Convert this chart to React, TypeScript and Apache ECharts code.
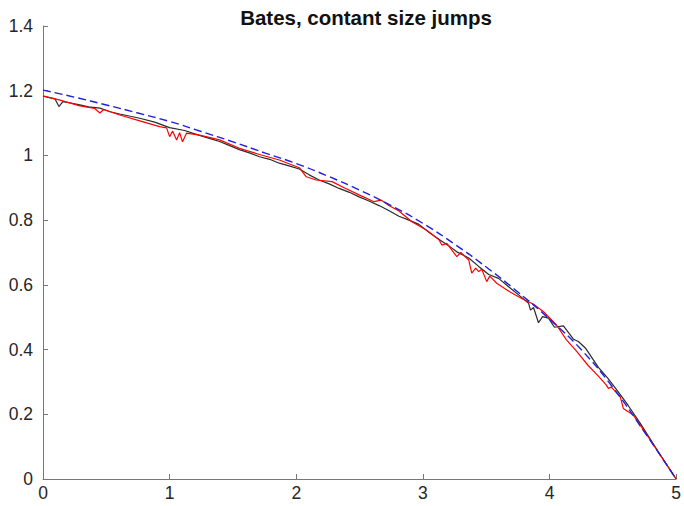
import React, { useEffect, useRef } from "react";
import * as echarts from "echarts";

const titleText = "Bates, contant size jumps";
const xTicks = [0, 1, 2, 3, 4, 5];
const yTicks = [0, 0.2, 0.4, 0.6, 0.8, 1, 1.2, 1.4];

// Blue dashed (smooth) curve
const blueX = [0, 0.25, 0.5, 0.75, 1.0, 1.25, 1.5, 1.75, 2.0, 2.25, 2.5, 2.75, 3.0, 3.25, 3.5, 3.75, 4.0, 4.25, 4.5, 4.75, 5.0];
const blueY = [1.202, 1.180, 1.156, 1.131, 1.105, 1.074, 1.042, 1.008, 0.975, 0.936, 0.893, 0.845, 0.790, 0.726, 0.655, 0.578, 0.494, 0.400, 0.283, 0.145, 0.0];

// Black noisy path
const blackX = [0.000, 0.094, 0.126, 0.157, 0.220, 0.291, 0.360, 0.449, 0.530, 0.606, 0.690, 0.764, 0.882, 1.0, 1.118, 1.236, 1.320, 1.394, 1.470, 1.551, 1.630, 1.709, 1.790, 1.866, 1.950, 2.024, 2.102, 2.181, 2.260, 2.339, 2.420, 2.496, 2.570, 2.654, 2.730, 2.811, 2.890, 2.969, 3.050, 3.126, 3.200, 3.268, 3.362, 3.441, 3.520, 3.598, 3.677, 3.756, 3.835, 3.850, 3.874, 3.913, 3.945, 3.992, 4.039, 4.110, 4.189, 4.228, 4.283, 4.386, 4.460, 4.528, 4.620, 4.717, 4.858, 5.0];
const blackY = [1.183, 1.175, 1.151, 1.166, 1.162, 1.156, 1.150, 1.146, 1.135, 1.128, 1.121, 1.115, 1.103, 1.086, 1.077, 1.062, 1.052, 1.043, 1.031, 1.018, 1.008, 0.996, 0.988, 0.976, 0.967, 0.958, 0.940, 0.924, 0.912, 0.898, 0.886, 0.872, 0.860, 0.845, 0.830, 0.812, 0.800, 0.787, 0.762, 0.741, 0.722, 0.702, 0.683, 0.657, 0.632, 0.620, 0.594, 0.569, 0.543, 0.522, 0.530, 0.483, 0.502, 0.497, 0.469, 0.473, 0.432, 0.425, 0.405, 0.345, 0.312, 0.277, 0.228, 0.172, 0.085, 0.0];

// Red noisy path
const redX = [0.000, 0.134, 0.291, 0.409, 0.449, 0.480, 0.606, 0.764, 0.921, 0.976, 1.000, 1.024, 1.055, 1.079, 1.102, 1.134, 1.236, 1.394, 1.551, 1.709, 1.866, 2.024, 2.079, 2.157, 2.283, 2.378, 2.496, 2.614, 2.669, 2.732, 2.811, 2.913, 3.024, 3.126, 3.150, 3.189, 3.268, 3.299, 3.362, 3.386, 3.417, 3.441, 3.465, 3.504, 3.528, 3.583, 3.685, 3.795, 3.874, 3.953, 4.055, 4.134, 4.213, 4.307, 4.386, 4.449, 4.465, 4.488, 4.559, 4.583, 4.622, 4.661, 4.780, 4.898, 5.0];
const redY = [1.184, 1.171, 1.153, 1.145, 1.131, 1.142, 1.125, 1.107, 1.089, 1.085, 1.058, 1.075, 1.048, 1.070, 1.042, 1.069, 1.063, 1.048, 1.022, 1.003, 0.986, 0.962, 0.934, 0.924, 0.919, 0.900, 0.878, 0.857, 0.862, 0.845, 0.828, 0.795, 0.770, 0.740, 0.723, 0.728, 0.687, 0.700, 0.677, 0.636, 0.652, 0.641, 0.648, 0.610, 0.627, 0.605, 0.579, 0.555, 0.540, 0.517, 0.476, 0.430, 0.395, 0.350, 0.318, 0.290, 0.280, 0.284, 0.254, 0.218, 0.208, 0.198, 0.130, 0.060, 0.0];

const pairs = (xs: number[], ys: number[]) => xs.map((x, i) => [x, ys[i]]);

export default function App() {
  const ref = useRef<HTMLDivElement>(null);
  useEffect(() => {
    document.body.style.margin = "0";
    const chart = echarts.init(ref.current!, null, { renderer: "svg" });
    const font = "'Liberation Sans', Arial, sans-serif";
    chart.setOption({
      animation: false,
      backgroundColor: "#ffffff",
      title: {
        text: titleText,
        left: 361,
        top: 2,
        textAlign: "center",
        textStyle: { fontFamily: font, fontSize: 20.5, fontWeight: "bold", color: "#111" },
      },
      grid: { left: 43, right: 7, top: 26, bottom: 27, containLabel: false },
      xAxis: {
        type: "value",
        min: xTicks[0],
        max: xTicks[xTicks.length - 1],
        interval: 1,
        axisLine: { show: true, lineStyle: { color: "#777777", width: 1 } },
        axisTick: { show: true, inside: true, length: 5, lineStyle: { color: "#777777" } },
        axisLabel: { fontFamily: font, fontSize: 17.5, color: "#262626", margin: 5 },
        splitLine: { show: false },
      },
      yAxis: {
        type: "value",
        min: yTicks[0],
        max: yTicks[yTicks.length - 1],
        interval: 0.2,
        axisLine: { show: true, lineStyle: { color: "#777777", width: 1 } },
        axisTick: { show: true, inside: true, length: 5, lineStyle: { color: "#777777" } },
        axisLabel: { fontFamily: font, fontSize: 17.5, color: "#262626", margin: 10, formatter: (v: number) => String(Math.round(v * 10) / 10) },
        splitLine: { show: false },
      },
      series: [
        {
          type: "line",
          data: pairs(blackX, blackY),
          showSymbol: false,
          lineStyle: { color: "#2a2a2a", width: 1.2 },
        },
        {
          type: "line",
          data: pairs(redX, redY),
          showSymbol: false,
          lineStyle: { color: "#ff0000", width: 1.2 },
        },
        {
          type: "line",
          data: pairs(blueX, blueY),
          showSymbol: false,
          smooth: true,
          lineStyle: { color: "#1f1fe0", width: 1.4, type: [8, 4] },
        },
      ],
    });
    return () => chart.dispose();
  }, []);
  return <div ref={ref} style={{ width: 684, height: 506 }} />;
}
